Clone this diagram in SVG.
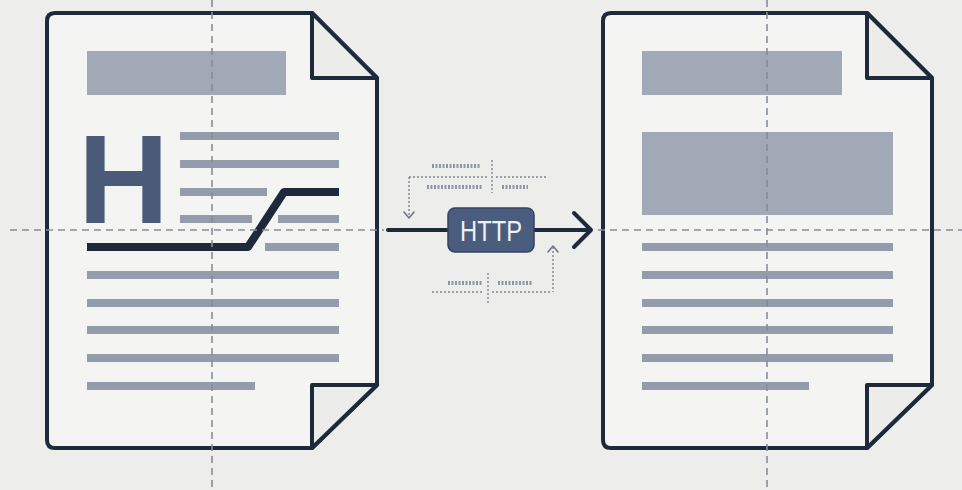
<svg xmlns="http://www.w3.org/2000/svg" width="962" height="490" viewBox="0 0 962 490">
  <defs>
    <style>
      .page { fill: #f4f4f3; stroke: #1e293b; stroke-width: 4; stroke-linejoin: round; }
      .fold { fill: #ececeb; stroke: #1e293b; stroke-width: 4; stroke-linejoin: round; }
      .bar { fill: #a2a9b6; }
      .row { stroke: #949bab; stroke-width: 8; stroke-linecap: butt; }
      .guide { stroke: #868d98; stroke-width: 1.6; stroke-dasharray: 7 5; fill: none; }
      .wire { stroke: #1e293b; stroke-width: 4; fill: none; stroke-linecap: round; stroke-linejoin: round; }
      .dot { stroke: #7d8593; stroke-width: 1.4; stroke-dasharray: 2 2; fill: none; }
      .scribble { stroke: #8e95a2; stroke-width: 4; stroke-dasharray: 2 1.5; fill: none; }
      .head { stroke: #6f7886; stroke-width: 1.6; fill: none; stroke-linecap: round; stroke-linejoin: round; }
    </style>
  </defs>

  <rect width="962" height="490" fill="#ededec"/>

  <!-- left document: heading and body copy -->
  <g id="doc-source">
    <path class="page" d="M55,13 H312 L377,78 V385 L312,448 H55 Q47,448 47,440 V21 Q47,13 55,13 Z"/>
    <path class="fold" d="M312,13 V78 H377 Z"/>
    <path class="fold" d="M377,385 H312 V448 Z"/>
    <rect class="bar" x="87" y="51" width="199" height="44"/>
    <text x="78" y="223" font-family="Liberation Sans, Arial, sans-serif" font-weight="700" font-size="126" fill="#4a5a78">H</text>
    <g>
      <line class="row" x1="180" y1="136" x2="339" y2="136"/>
      <line class="row" x1="180" y1="164" x2="339" y2="164"/>
      <line class="row" x1="180" y1="192" x2="267" y2="192"/>
      <line class="row" x1="180" y1="219" x2="252" y2="219"/>
      <line class="row" x1="278" y1="219" x2="339" y2="219"/>
      <line class="row" x1="265" y1="247" x2="339" y2="247"/>
      <line class="row" x1="87" y1="275" x2="339" y2="275"/>
      <line class="row" x1="87" y1="303" x2="339" y2="303"/>
      <line class="row" x1="87" y1="330" x2="339" y2="330"/>
      <line class="row" x1="87" y1="358" x2="339" y2="358"/>
      <line class="row" x1="87" y1="386" x2="255" y2="386"/>
    </g>
    <path d="M87,247 H248 L284,192 H339" fill="none" stroke="#1e293b" stroke-width="8" stroke-linejoin="round"/>
  </g>

  <!-- right document: rendered layout -->
  <g id="doc-target">
    <path class="page" d="M611,13 H867 L932,78 V385 L867,448 H611 Q603,448 603,440 V21 Q603,13 611,13 Z"/>
    <path class="fold" d="M867,13 V78 H932 Z"/>
    <path class="fold" d="M932,385 H867 V448 Z"/>
    <rect class="bar" x="642" y="51" width="200" height="44"/>
    <rect class="bar" x="642" y="132" width="251" height="83"/>
    <g>
      <line class="row" x1="642" y1="247" x2="893" y2="247"/>
      <line class="row" x1="642" y1="275" x2="893" y2="275"/>
      <line class="row" x1="642" y1="303" x2="893" y2="303"/>
      <line class="row" x1="642" y1="330" x2="893" y2="330"/>
      <line class="row" x1="642" y1="358" x2="893" y2="358"/>
      <line class="row" x1="642" y1="386" x2="809" y2="386"/>
    </g>
  </g>

  <!-- construction guides -->
  <g id="guides">
    <line class="guide" x1="212" y1="0" x2="212" y2="490"/>
    <line class="guide" x1="767" y1="0" x2="767" y2="490"/>
    <line class="guide" x1="10" y1="230" x2="384" y2="230"/>
    <line class="guide" x1="598" y1="230" x2="962" y2="230"/>
  </g>

  <!-- request flow -->
  <g id="connectors">
    <line class="wire" x1="388" y1="230" x2="590" y2="230"/>
    <path class="wire" d="M574,213 L591,230 L574,247"/>

    <!-- upper annotation -->
    <line class="scribble" x1="432" y1="166" x2="480" y2="166"/>
    <line class="dot" x1="409" y1="177" x2="488" y2="177"/>
    <line class="dot" x1="496" y1="177" x2="548" y2="177"/>
    <line class="scribble" x1="427" y1="187" x2="482" y2="187"/>
    <line class="scribble" x1="502" y1="187" x2="528" y2="187"/>
    <line class="dot" x1="492" y1="160" x2="492" y2="193" stroke-width="2.4"/>
    <line class="dot" x1="409" y1="177" x2="409" y2="217"/>
    <path class="head" d="M404,212 L409,218 L414,212"/>

    <!-- lower annotation -->
    <line class="scribble" x1="448" y1="283" x2="482" y2="283"/>
    <line class="scribble" x1="498" y1="283" x2="532" y2="283"/>
    <line class="dot" x1="432" y1="292" x2="484" y2="292"/>
    <line class="dot" x1="492" y1="292" x2="552" y2="292"/>
    <line class="dot" x1="488" y1="273" x2="488" y2="304" stroke-width="2.4"/>
    <line class="dot" x1="553" y1="247" x2="553" y2="292"/>
    <path class="head" d="M548,252 L553,246 L558,252"/>
  </g>

  <!-- protocol node -->
  <g id="http">
    <rect x="448" y="208" width="86" height="44" rx="7" fill="#4b5d7e" stroke="#34435e" stroke-width="1.5"/>
    <text x="491" y="241" text-anchor="middle" font-family="Liberation Sans, Arial, sans-serif" font-size="29" fill="#eef1f5" textLength="62" lengthAdjust="spacingAndGlyphs">HTTP</text>
  </g>
</svg>
